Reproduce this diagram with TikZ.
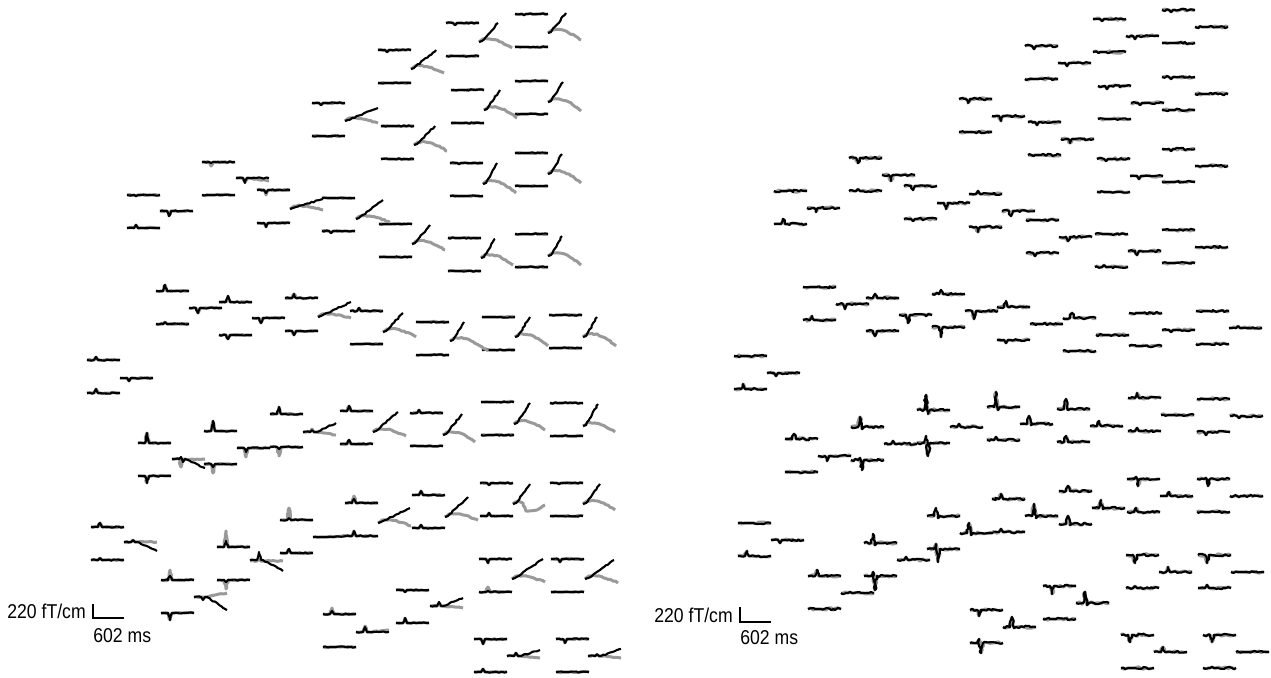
\documentclass[tikz,border=0pt]{standalone}
\usepackage{fontspec}
\newfontfamily\lblfont[FakeStretch=0.88]{Liberation Sans}
\usetikzlibrary{decorations.pathmorphing}

\tikzset{
  noisy/.style={decorate, decoration={random steps, segment length=1.4pt, amplitude=0.35pt}},
  sig/.style={noisy, black, line width=1.2pt, line join=round},
  gry/.style={noisy, black!40, line width=1.7pt, line join=round},
  bar/.style={line width=0.8pt},
  lbl/.style={font=\lblfont\fontsize{11.4}{13}\selectfont, inner sep=0pt, anchor=base west}
}

% one trace: [style] x, y, peak, trough (px, up is positive), end drift
\newcommand{\wv}[6][sig]{\draw[#1,shift={(#2,#3)}] (0,0) -- (7,0) -- (9,{-(#4)}) -- (11,{-(#5)}) -- (13,0) -- (33,{-(#6)});}
% black trace over its gray twin
\newcommand{\tr}[5]{\wv[gry]{#1}{#2}{#3}{#4}{#5}\wv{#1}{#2}{#3}{#4}{#5}}
% steep black ramp with a gray tail: x, y, black end, gray end
\newcommand{\rp}[6]{%
  \draw[gry,shift={(#1,#2)}] (0,2) -- (4,-1) .. controls (12,-2) and (20,0) .. (#5,#6);
  \draw[sig,shift={(#1,#2)}] (0,2) -- (3,1) -- (#3,{-(#4)});}

\begin{document}
\begin{tikzpicture}[x=0.02cm, y=-0.02cm]
  \pgfmathsetseed{12}
  \fill[white] (0,0) rectangle (1271,677);
  \useasboundingbox (0,0) rectangle (1271,677);

  %% left panel
  % top and bottom trace of each sensor: x/y/top/gray top/bottom/gray bottom
  \foreach \x/\y/\ta/\ga/\ba/\gb in {446/23/-2/-2/0/0, 515/14/-1/-1/0/0, 378/50/-2/-2/0/0,
      451/90/0/0/0/0, 515/81/0/0/0/0, 312/103/-2/-2/0/0, 381/126/0/0/0/0, 450/163/-1/-1/0/0,
      515/153/0/0/0/0, 202/162/-1/-4/0/0, 127/195/-1/-1/3/3, 257/190/-3/-5/-4/-4,
      322/198/0/0/-2/-2, 379/224/0/0/0/0, 448/238/0/0/0/0, 515/234/0/0/0/0, 156/291/6/6/2/2,
      219/302/6/6/-4/-4, 285/298/4/4/-4/-4, 350/311/3/3/0/0, 416/322/0/0/0/0, 482/317/0/0/0/0,
      549/315/0/0/0/0, 87/360/3/3/4/4, 138/443/10/10/-7/-7, 204/431/10/10/-3/-9,
      270/414/7/7/-2/-9, 340/411/5/5/4/4, 410/413/3/3/0/0, 481/402/0/0/0/0, 550/403/0/0/0/0,
      345/503/4/7/5/5, 412/495/4/4/3/3, 480/483/-2/-2/3/3, 550/483/-1/-1/0/0, 91/527/4/4/2/2,
      280/520/2/12/4/4, 217/547/6/16/-2/-9, 161/580/4/10/-7/-7, 396/590/-2/-2/5/5,
      323/614/3/6/0/0, 479/559/-4/-4/1/5, 551/559/-3/-3/0/0, 474/639/-5/-5/3/3, 556/639/-4/-4/0/0}{
    \wv[gry]{\x}{\y}{\ga}{0}{0}\wv{\x}{\y}{\ta}{0}{0}
    \wv[gry]{\x}{\y+33}{\gb}{0}{0}\wv{\x}{\y+33}{\ba}{0}{0}
  }
  % middle traces
  \rp{479}{40}{19}{17}{33}{8}
  \rp{548}{31}{18}{18}{33}{9}
  \rp{411}{67}{25}{17}{33}{6}
  \rp{484}{108}{16}{18}{33}{10}
  \rp{548}{100}{15}{18}{33}{11}
  \rp{345}{119}{33}{11}{33}{4}
  \rp{414}{143}{21}{17}{33}{8}
  \rp{483}{182}{14}{19}{33}{11}
  \rp{548}{172}{14}{18}{33}{11}
  \wv[gry]{236}{178}{-4}{0}{-3}\wv{236}{178}{-5}{0}{0}
  \tr{160}{211}{-5}{0}{0}
  \rp{290}{207}{33}{8}{33}{3}
  \rp{356}{217}{27}{17}{34}{5}
  \rp{412}{242}{18}{17}{33}{8}
  \rp{481}{256}{14}{17}{32}{9}
  \rp{548}{254}{14}{18}{33}{11}
  \tr{189}{308}{-5}{0}{0}
  \tr{252}{318}{-5}{0}{0}
  \rp{318}{315}{33}{13}{33}{3}
  \rp{383}{330}{20}{17}{33}{7}
  \rp{450}{339}{14}{17}{38}{12}
  \rp{515}{335}{15}{18}{33}{11}
  \rp{583}{335}{14}{18}{33}{11}
  \tr{120}{378}{-3}{0}{0}
  \wv[gry]{172}{459}{-8}{0}{0}\wv{172}{459}{2}{-3}{-9}
  \wv[gry]{237}{448}{-9}{0}{0}\wv{237}{448}{-4}{0}{0}
  \wv[gry]{303}{432}{3}{0}{-3}\wv{303}{432}{2}{0}{9}
  \rp{373}{430}{25}{18}{33}{6}
  \rp{443}{433}{19}{19}{32}{9}
  \rp{514}{422}{16}{19}{31}{8}
  \rp{583}{424}{15}{20}{32}{8}
  \rp{378}{521}{32}{13}{33}{5}
  \rp{445}{515}{23}{18}{33}{5}
  \draw[gry,shift={(513,502)}] (0,2) -- (5,-1) -- (10,1) -- (13,9) -- (24,8) -- (32,3);
  \draw[sig,shift={(513,502)}] (0,2) -- (3,1) -- (17,-18);
  \rp{583}{502}{17}{18}{32}{8}
  \wv[gry]{124}{542}{2}{0}{0}\wv{124}{542}{2}{0}{-9}
  \tr{313}{537}{0}{0}{1}
  \wv[gry]{250}{561}{2}{0}{0}\wv{250}{560}{8}{0}{-11}
  \wv[gry]{194}{597}{0}{0}{4}\wv{194}{597}{-3}{0}{-13}
  \wv[gry]{430}{606}{2}{0}{-2}\wv{430}{606}{4}{0}{8}
  \wv[gry]{356}{632}{6}{0}{2}\wv{356}{632}{5}{0}{0}
  \rp{512}{577}{31}{18}{33}{5}
  \rp{585}{577}{29}{17}{33}{6}
  \wv[gry]{507}{656}{3}{0}{-2}\wv{507}{656}{3}{0}{6}
  \wv[gry]{588}{656}{1}{0}{-2}\wv{588}{656}{2}{0}{7}

  % scale bar
  \node[lbl] (lcal) at (7,618) {220 fT/cm};
  \node[lbl] (lms) at (93,642) {602 ms};
  \draw[bar] (93,604) -- (93,618) -- (124,618);

  %% right panel, same sensor layout
  \begin{scope}[shift={(647,-4)},
      noisy/.style={decorate, decoration={random steps, segment length=1.4pt, amplitude=0.7pt}}]
    % x/y/top peak/trough/middle peak/trough/bottom peak/trough
    \foreach \x/\y/\ta/\tb/\ma/\mb/\ba/\bb in {446/23/-2/0/-3/0/0/0, 515/14/-2/0/0/0/0/0,
        378/50/-3/0/-3/0/0/0, 451/90/-3/0/-2/0/0/0, 515/81/-2/0/0/0/0/0, 312/103/-4/0/-5/0/0/0,
        381/126/-3/0/-4/0/0/0, 450/163/-2/0/-3/0/0/0, 515/153/-2/0/0/0/0/0, 202/162/-5/0/-6/0/2/0,
        127/195/0/0/-4/0/5/0, 257/190/-4/0/-6/0/-2/0, 322/198/3/0/-5/0/-5/0, 379/224/0/0/-4/0/-3/0,
        448/238/0/0/-4/0/2/0, 515/234/0/0/-1/0/0/0, 156/291/0/0/-5/0/4/0, 219/302/4/0/-8/0/-5/0,
        285/298/4/0/-8/0/-10/0, 350/311/6/0/0/0/-3/0, 416/322/5/0/0/0/0/0, 482/317/0/0/-2/0/0/0,
        549/315/0/0/2/0/0/0, 87/360/0/0/-3/0/5/0, 138/443/5/0/-5/0/0/0, 204/431/10/-2/3/0/2/-10,
        270/414/15/-4/3/0/7/-13, 340/411/15/-3/8/-1/3/0, 410/413/10/-1/5/0/6/0, 481/402/5/0/0/0/3/0,
        550/403/0/0/-2/0/-3/0, 345/503/5/0/12/-2/3/0, 412/495/5/0/8/-1/8/-1, 480/483/2/-7/4/0/4/0,
        550/483/1/-7/-1/0/0/0, 91/527/0/0/-3/0/5/0, 280/520/8/-2/10/-2/5/-13, 217/547/9/-2/3/0/4/-14,
        161/580/6/0/1/0/0/0, 396/590/-8/0/11/-2/0/0, 323/614/-6/0/10/-1/4/-10, 479/559/-8/0/5/0/2/0,
        551/559/-8/0/0/0/3/0, 474/639/-7/0/5/0/0/0, 556/639/-7/0/0/0/1/0}{
      \tr{\x}{\y}{\ta}{\tb}{0}
      \tr{\x+33}{\y+17}{\ma}{\mb}{0}
      \tr{\x}{\y+33}{\ba}{\bb}{0}
    }
  \end{scope}

  % scale bar
  \node[lbl] (rcal) at (654,622) {220 fT/cm};
  \node[lbl] (rms) at (740,644) {602 ms};
  \draw[bar] (740,607) -- (740,622) -- (771,622);
\end{tikzpicture}
\end{document}
